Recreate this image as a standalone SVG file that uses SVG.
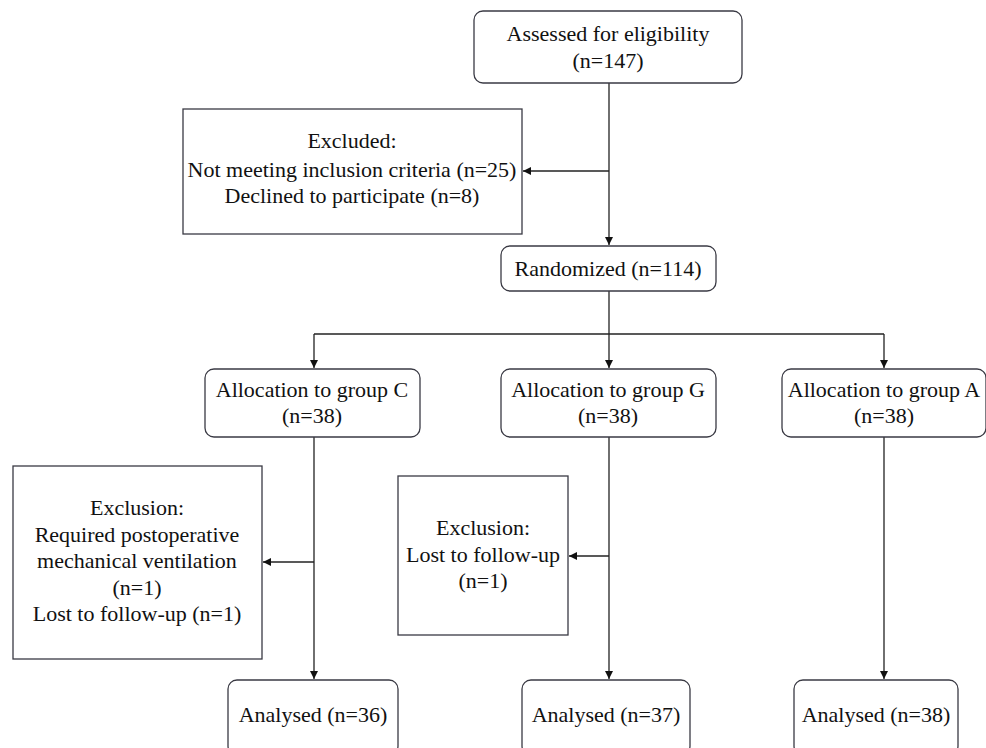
<svg xmlns="http://www.w3.org/2000/svg" width="986" height="748" viewBox="0 0 986 748">
<defs>
<marker id="ah" viewBox="0 0 10 10" refX="10" refY="5" markerWidth="8" markerHeight="8" markerUnits="userSpaceOnUse" orient="auto">
<path d="M0,0 L10,5 L0,10 z" fill="#111"/>
</marker>
</defs>
<style>
rect{fill:#fff;stroke:#3a3a44;stroke-width:1.3}
text{font-family:"Liberation Serif","Times New Roman",serif;font-size:22px;fill:#111;text-anchor:middle}
.c{fill:none;stroke:#222;stroke-width:1.3}
</style>
<rect width="986" height="748" style="fill:#fff;stroke:none"/>
<g id="connectors">
<path class="c" d="M609,83 V245" marker-end="url(#ah)"/>
<path class="c" d="M609,171 H523" marker-end="url(#ah)"/>
<path class="c" d="M609,291 V334"/>
<path class="c" d="M314,334 H884"/>
<path class="c" d="M314,334 V368" marker-end="url(#ah)"/>
<path class="c" d="M609,334 V368" marker-end="url(#ah)"/>
<path class="c" d="M884,334 V368" marker-end="url(#ah)"/>
<path class="c" d="M314,437 V679" marker-end="url(#ah)"/>
<path class="c" d="M314,562 H263" marker-end="url(#ah)"/>
<path class="c" d="M609,437 V679" marker-end="url(#ah)"/>
<path class="c" d="M609,556 H569" marker-end="url(#ah)"/>
<path class="c" d="M884,437 V679" marker-end="url(#ah)"/>
</g>
<g id="assessed">
<rect x="474" y="11" width="268" height="72" rx="9"/>
<text x="608" y="41">Assessed for eligibility</text>
<text x="608" y="68">(n=147)</text>
</g>
<g id="excluded">
<rect x="183" y="109" width="339" height="125"/>
<text x="352" y="148">Excluded:</text>
<text x="352" y="177">Not meeting inclusion criteria (n=25)</text>
<text x="352" y="203">Declined to participate (n=8)</text>
</g>
<g id="randomized">
<rect x="501" y="246" width="215" height="45" rx="9"/>
<text x="608" y="276">Randomized (n=114)</text>
</g>
<g id="groupC">
<rect x="205" y="369" width="215" height="68" rx="9"/>
<text x="312" y="397">Allocation to group C</text>
<text x="312" y="423">(n=38)</text>
</g>
<g id="groupG">
<rect x="501" y="369" width="215" height="68" rx="9"/>
<text x="608" y="397">Allocation to group G</text>
<text x="608" y="423">(n=38)</text>
</g>
<g id="groupA">
<rect x="782" y="369" width="204" height="68" rx="9"/>
<text x="884" y="397">Allocation to group A</text>
<text x="884" y="423">(n=38)</text>
</g>
<g id="exclusionC">
<rect x="13" y="466" width="249" height="193"/>
<text x="137" y="515">Exclusion:</text>
<text x="137" y="542">Required postoperative</text>
<text x="137" y="568">mechanical ventilation</text>
<text x="137" y="595">(n=1)</text>
<text x="137" y="621">Lost to follow-up (n=1)</text>
</g>
<g id="exclusionG">
<rect x="398" y="476" width="170" height="159"/>
<text x="483" y="535">Exclusion:</text>
<text x="483" y="562">Lost to follow-up</text>
<text x="483" y="588">(n=1)</text>
</g>
<g id="analysedC">
<rect x="228" y="680" width="170" height="75" rx="9"/>
<text x="313" y="722">Analysed (n=36)</text>
</g>
<g id="analysedG">
<rect x="522" y="680" width="168" height="75" rx="9"/>
<text x="606" y="722">Analysed (n=37)</text>
</g>
<g id="analysedA">
<rect x="794" y="680" width="164" height="75" rx="9"/>
<text x="876" y="722">Analysed (n=38)</text>
</g>
</svg>
